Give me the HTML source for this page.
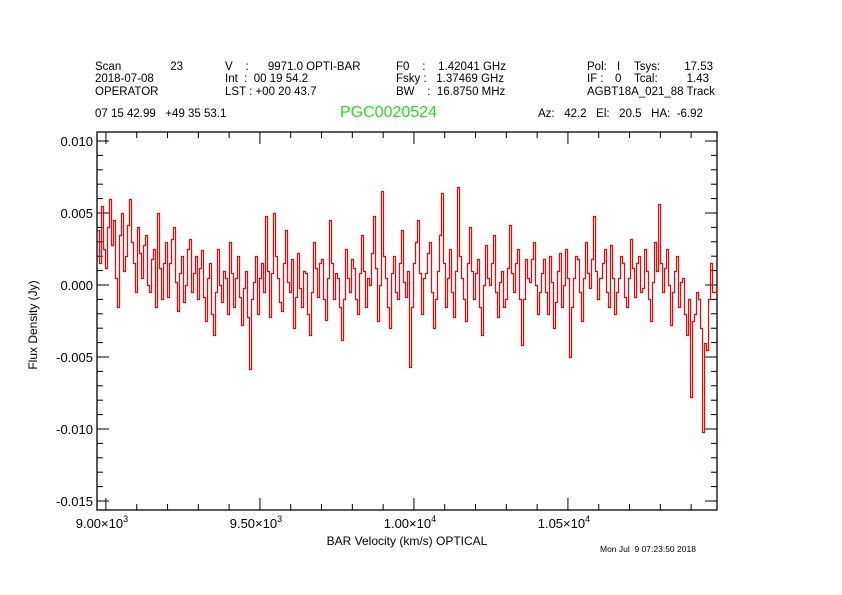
<!DOCTYPE html>
<html><head><meta charset="utf-8"><style>
html,body{margin:0;padding:0;background:#fff;}
svg{display:block;font-family:"Liberation Sans",sans-serif;}
#hdr text{white-space:pre;}
</style></head><body>
<svg id="c" width="842" height="595" viewBox="0 0 842 595">
<g id="hdr" font-size="11.5" fill="#000" xml:space="preserve">
<text x="95" y="70">Scan</text><text x="183" y="70" text-anchor="end">23</text>
<text x="95" y="82">2018-07-08</text>
<text x="95" y="95">OPERATOR</text>
<text x="225" y="70">V    :      9971.0 OPTI-BAR</text>
<text x="225" y="82">Int  :  00 19 54.2</text>
<text x="225" y="95">LST : +00 20 43.7</text>
<text x="396" y="70">F0    :    1.42041 GHz</text>
<text x="396" y="82">Fsky :   1.37469 GHz</text>
<text x="396" y="95">BW    :  16.8750 MHz</text>
<text x="587" y="70">Pol:</text><text x="617" y="70">I</text>
<text x="587" y="82">IF :</text><text x="615" y="82">0</text>
<text x="587" y="95">AGBT18A_021_88 Track</text>
<text x="634" y="70">Tsys:</text><text x="713" y="70" text-anchor="end">17.53</text>
<text x="634" y="82">Tcal:</text><text x="709" y="82" text-anchor="end">1.43</text>
<text x="95" y="117">07 15 42.99   +49 35 53.1</text>
<text x="538" y="117">Az:   42.2   El:   20.5   HA:  -6.92</text>
<text x="340" y="117" font-size="16" fill="#22e022">PGC0020524</text>
</g>
<g id="axes"></g>
<path id="spec" fill="none" stroke="#ff0000" stroke-width="1.2"/>
<text x="407" y="545" font-size="12" text-anchor="middle">BAR Velocity (km/s) OPTICAL</text>
<text transform="translate(37,325) rotate(-90)" font-size="12" text-anchor="middle">Flux Density (Jy)</text>
<text x="600" y="552" font-size="8.5" style="white-space:pre">Mon Jul  9 07:23:50 2018</text>
</svg>
<script>
const fluxMJy=[3.8,1.5,5.5,2.5,1.2,4.0,6.0,2.8,4.5,0.5,-1.5,3.5,5.0,1.0,2.0,4.2,6.0,3.0,1.5,-0.5,
4.0,2.2,0.5,2.8,3.5,0.0,-0.5,1.8,2.5,-1.5,5.0,1.2,-1.0,1.5,3.0,-0.8,1.5,3.2,4.0,0.2,
-1.8,0.8,2.0,-1.2,0.0,2.5,3.2,-0.5,0.8,2.0,-1.0,1.2,2.4,-0.8,-2.5,0.5,1.5,-2.0,-3.5,-0.5,
2.5,0.0,-1.2,1.0,0.5,-2.0,3.0,0.8,-1.5,0.5,2.0,-0.8,-2.8,-0.2,1.0,-2.2,-5.8,-1.0,0.2,2.0,
-2.0,0.5,1.5,-0.5,4.8,1.0,-2.2,0.8,5.0,2.0,0.5,-1.2,-1.8,1.5,3.8,0.2,-0.5,1.8,-3.0,-0.8,
2.2,-0.2,-1.5,1.0,0.8,-2.0,-3.5,-0.5,3.0,1.2,-0.8,1.5,1.8,-1.0,-2.4,0.5,4.5,1.5,-1.0,0.8,
0.5,-1.5,-3.8,-1.0,2.5,0.5,-0.5,1.8,1.2,-1.0,-2.0,0.8,3.5,1.0,-1.5,0.5,0.0,2.2,4.8,1.2,
-2.5,0.0,6.5,2.0,0.5,-1.5,-3.0,0.8,2.0,-0.5,-1.0,1.5,3.8,0.2,-0.8,1.0,-5.7,-1.5,1.5,3.0,
4.5,0.8,-2.0,0.5,0.8,2.2,3.0,-0.5,-3.0,-1.0,1.0,3.5,6.4,1.5,-1.5,0.5,2.5,-0.5,-2.2,1.0,
6.8,2.0,0.5,-1.0,-2.5,1.5,4.0,1.0,-1.0,0.8,1.8,-1.5,-3.5,0.0,2.8,0.5,0.0,1.5,3.5,-0.5,
-2.2,0.2,1.0,-1.5,-1.0,1.2,4.2,0.8,-0.5,1.5,2.5,-1.0,-4.2,-1.0,1.8,0.5,0.2,1.8,3.0,0.0,
-2.0,-0.5,0.8,1.8,-0.5,-2.0,2.0,0.2,-3.0,-1.2,1.0,2.2,-1.5,0.0,2.5,0.5,-5.0,-1.5,0.5,2.0,
1.8,-0.5,-2.5,0.5,3.0,0.8,-0.2,1.8,4.8,1.0,-1.0,0.5,1.5,2.5,-0.5,-1.5,2.8,0.5,-2.0,-0.5,
0.5,2.0,1.5,-0.8,-1.5,0.5,3.2,1.2,-0.8,1.5,2.0,-0.5,-0.2,2.5,1.0,-1.0,-2.5,0.2,3.0,1.0,
5.6,1.5,-0.5,1.2,2.5,0.0,-2.8,-0.5,1.0,2.0,-1.5,0.2,0.5,-2.0,-3.5,-1.0,-7.8,-2.5,-2.0,-0.5,
-1.0,-3.0,-10.2,-4.0,-4.5,-1.0,1.5,-0.5,-0.5,-0.2];
const vStart=8971, chanWidth=6.5;
const yTicks=[0.010,0.005,0.000,-0.005,-0.010,-0.015];
const yTickLabels=["0.010","0.005","0.000","-0.005","-0.010","-0.015"];
const xTicks=[9000,9500,10000,10500];
const xTickLabels=["9.00×10","9.50×10","1.00×10","1.05×10"];
const xTickExp=["3","3","4","4"];
const L=97,R=717,T=132,B=510,vMin=8971,vMax=10984;
const X=v=>L+(v-vMin)/(vMax-vMin)*(R-L);
const Y=f=>285-f/0.005*72;
const NS="http://www.w3.org/2000/svg";
const ax=document.getElementById('axes');
function mk(t,a){const e=document.createElementNS(NS,t);for(const k in a)e.setAttribute(k,a[k]);ax.appendChild(e);return e;}
const fr=mk('rect',{x:L,y:T,width:R-L,height:B-T,fill:'none',stroke:'#000','stroke-width':1.3});


for(let f=-0.015;f<=0.0105;f+=0.001){const y=Y(f);const maj=Math.abs(Math.round(f*1000))%5===0;const len=maj?12:6;
mk('line',{x1:L,x2:L+len,y1:y,y2:y,stroke:'#000'});mk('line',{x1:R-len,x2:R,y1:y,y2:y,stroke:'#000'});}
yTicks.forEach((f,i)=>{const t=mk('text',{x:93,y:Y(f)+5,'font-size':13,'text-anchor':'end'});t.textContent=yTickLabels[i];

});
for(let v=9000;v<=vMax;v+=100){const x=X(v);const maj=v%500===0;const len=maj?12:6;
mk('line',{x1:x,x2:x,y1:B-len,y2:B,stroke:'#000'});mk('line',{x1:x,x2:x,y1:T,y2:T+len,stroke:'#000'});}
xTicks.forEach((v,i)=>{const t=mk('text',{x:X(v)-4,y:528,'font-size':13,'text-anchor':'middle'});t.textContent=xTickLabels[i];
const s=document.createElementNS(NS,'tspan');s.setAttribute('dy','-6');s.setAttribute('font-size','9');s.textContent=xTickExp[i];t.appendChild(s);

});
const rx=v=>Math.round(X(v))+0.5, ry=f=>Math.round(Y(f))+0.5;
let d='';
fluxMJy.forEach((m,i)=>{const v0=vStart+i*chanWidth,v1=Math.min(v0+chanWidth,vMax);const y=ry(m/1000);d+=(i?'L':'M')+rx(v0)+' '+y+'L'+rx(v1)+' '+y;});
document.getElementById('spec').setAttribute('d',d);
</script>
</body></html>
